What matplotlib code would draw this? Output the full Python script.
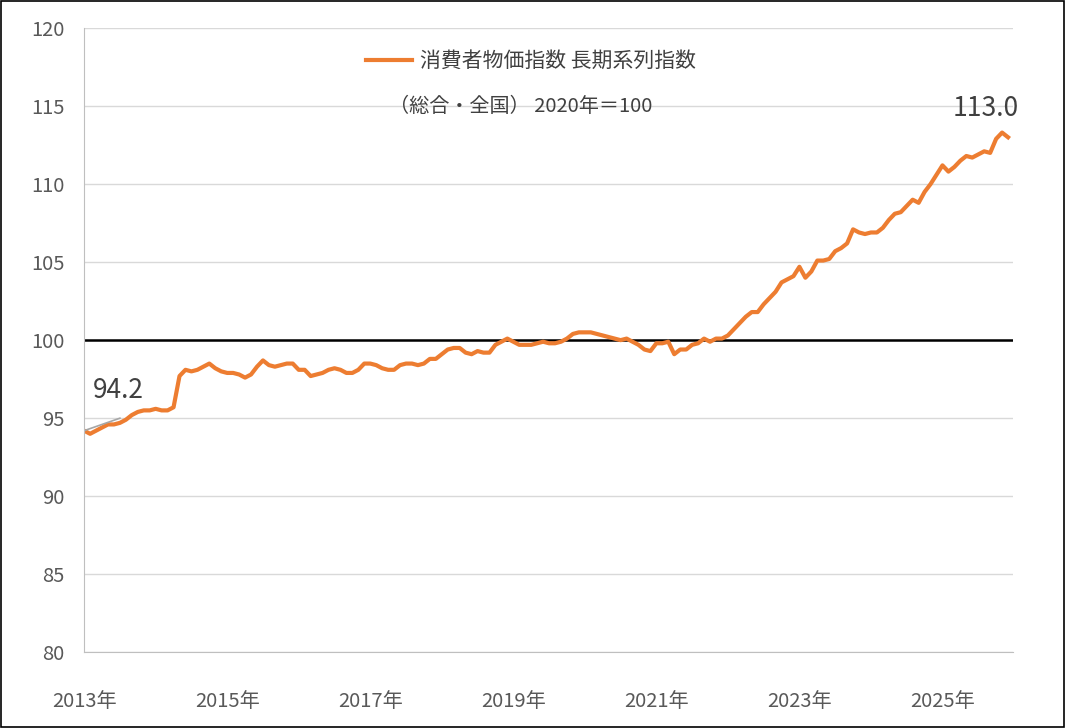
import matplotlib
matplotlib.use("Agg")
import matplotlib.pyplot as plt
import numpy as np

plt.rcParams['font.family'] = ['Noto Sans CJK JP', 'DejaVu Sans']

cpi = {
 2013: [94.2,94.0,94.2,94.4,94.6,94.6,94.7,94.9,95.2,95.4,95.5,95.5],
 2014: [95.6,95.5,95.5,95.7,97.7,98.1,98.0,98.1,98.3,98.5,98.2,98.0],
 2015: [97.9,97.9,97.8,97.6,97.8,98.3,98.7,98.4,98.3,98.4,98.5,98.5],
 2016: [98.1,98.1,97.7,97.8,97.9,98.1,98.2,98.1,97.9,97.9,98.1,98.5],
 2017: [98.5,98.4,98.2,98.1,98.1,98.4,98.5,98.5,98.4,98.5,98.8,98.8],
 2018: [99.1,99.4,99.5,99.5,99.2,99.1,99.3,99.2,99.2,99.7,99.9,100.1],
 2019: [99.9,99.7,99.7,99.7,99.8,99.9,99.8,99.8,99.9,100.1,100.4,100.5],
 2020: [100.5,100.5,100.4,100.3,100.2,100.1,100.0,100.1,99.9,99.7,99.4,99.3],
 2021: [99.8,99.8,99.9,99.1,99.4,99.4,99.7,99.8,100.1,99.9,100.1,100.1],
 2022: [100.3,100.7,101.1,101.5,101.8,101.8,102.3,102.7,103.1,103.7,103.9,104.1],
 2023: [104.7,104.0,104.4,105.1,105.1,105.2,105.7,105.9,106.2,107.1,106.9,106.8],
 2024: [106.9,106.9,107.2,107.7,108.1,108.2,108.6,109.0,108.8,109.5,110.0,110.6],
 2025: [111.2,110.8,111.1,111.5,111.8,111.7,111.9,112.1,112.0,112.9,113.3,113.0],
}
values = [v for y in sorted(cpi) for v in cpi[y]]
tick_years = [2013, 2015, 2017, 2019, 2021, 2023, 2025]
x = np.arange(len(values))

fig = plt.figure(figsize=(10.65, 7.28), dpi=100)
fig.patches.append(plt.Rectangle((0.001, 0.001), 0.998, 0.997, transform=fig.transFigure,
                                 fill=False, edgecolor='black', linewidth=1.2))
ax = fig.add_axes([0.079, 0.104, 0.872, 0.8575])
ax.set_ylim(80, 120)
ax.set_xlim(0, 155.8)
ax.set_yticks(range(80, 121, 5))
ax.yaxis.grid(True, color='#d9d9d9', linewidth=1)
ax.set_axisbelow(True)
ax.axhline(100, color='black', linewidth=1.8)
ax.plot(x, values, color='#ed7d31', linewidth=3, label='消費者物価指数 長期系列指数')
ax.plot([0, 6], [94.2, 95.0], color='#a6a6a6', linewidth=1.2)
ax.text(1.5, 95.9, '94.2', fontsize=19, color='#404040', ha='left', va='bottom')
ax.text(len(values) + 0.8, 114.0, '113.0', fontsize=19, color='#404040', ha='right', va='bottom')
ax.set_xticks([(y - 2013) * 12 for y in tick_years])
ax.set_xticklabels([f'{y}年' for y in tick_years])
ax.tick_params(axis='both', labelsize=14.5, colors='#595959', length=0)
ax.tick_params(axis='x', pad=28)
ax.tick_params(axis='y', pad=14)
for s in ['top', 'right']:
    ax.spines[s].set_visible(False)
for s in ['left', 'bottom']:
    ax.spines[s].set_color('#bfbfbf')
leg = ax.legend(loc='upper left', bbox_to_anchor=(0.283, 0.995), frameon=False, fontsize=15,
                handlelength=2.2, handletextpad=0.4)
for t in leg.get_texts():
    t.set_color('#404040')
ax.text(0.328, 0.875, '（総合・全国） 2020年＝100', transform=ax.transAxes, fontsize=14.5,
        color='#404040', ha='left', va='center')
fig.savefig('out.png', dpi=100)
